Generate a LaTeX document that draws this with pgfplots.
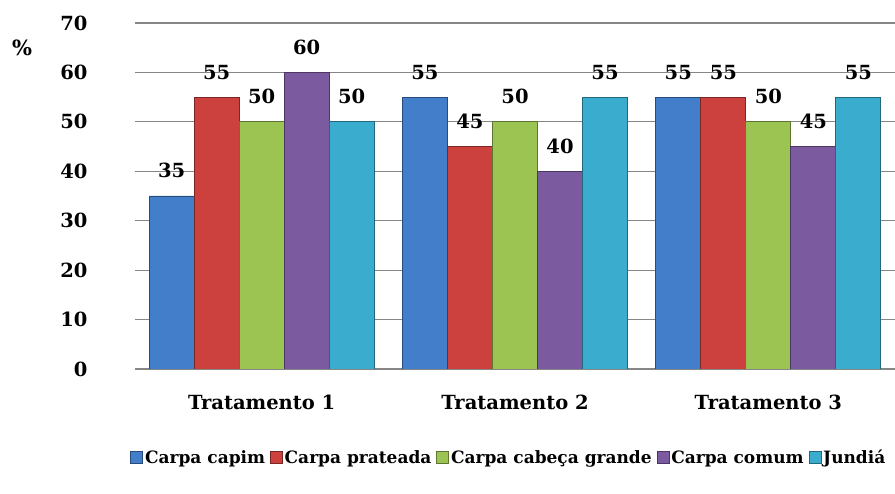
\documentclass[border=0pt]{standalone}
\usepackage{pgfplots}
\pgfplotsset{compat=1.18}
\usepackage{fontspec}
\setmainfont{DejaVu Serif}
\definecolor{cblue}{RGB}{66,126,202}
\definecolor{cred}{RGB}{204,64,62}
\definecolor{cgreen}{RGB}{156,196,82}
\definecolor{cpurple}{RGB}{124,90,160}
\definecolor{ccyan}{RGB}{58,172,206}
\definecolor{cgrid}{RGB}{134,134,134}
\begin{document}
\begin{tikzpicture}
\path[use as bounding box] (0,0) rectangle (895pt,494pt);
\begin{axis}[
  at={(135pt,125pt)}, anchor=south west,
  scale only axis, width=760pt, height=346pt,
  font=\fontsize{19.5}{23}\selectfont\bfseries,
  /pgf/number format/assume math mode=true,
  ybar=0pt, bar width=0.1777,
  xmin=0.5, xmax=3.5, ymin=0, ymax=70,
  xtick={1,2,3},
  xticklabels={Tratamento 1,Tratamento 2,Tratamento 3},
  ytick={0,10,...,70},
  major tick length=0pt,
  axis x line*=bottom, axis y line*=left,
  y axis line style={draw=none},
  x axis line style={cgrid, line width=1.4pt, -},
  ymajorgrids, grid style={cgrid, line width=1.2pt},
  yticklabel style={anchor=east, xshift=-44pt},
  xticklabel style={yshift=-22pt},
  nodes near coords,
  nodes near coords style={anchor=south, yshift=14pt, black},
  every axis plot post/.append style={
    legend image code/.code={\draw[#1,line width=0.6pt] (0pt,-3pt) rectangle (12pt,9pt);}},
  legend columns=-1,
  legend style={at={(0.492,-0.263)}, anchor=center, draw=none,
    font=\fontsize{17}{20}\selectfont\bfseries,
    nodes={text height=12pt, text depth=4pt},
    /tikz/every even column/.append style={column sep=3pt}},
]
\addplot[fill=cblue, draw=cblue!60!black, line width=0.8pt] coordinates {(1,35) (2,55) (3,55)};
\addlegendentry{Carpa capim}
\addplot[fill=cred, draw=cred!60!black, line width=0.8pt] coordinates {(1,55) (2,45) (3,55)};
\addlegendentry{Carpa prateada}
\addplot[fill=cgreen, draw=cgreen!60!black, line width=0.8pt] coordinates {(1,50) (2,50) (3,50)};
\addlegendentry{Carpa cabeça grande}
\addplot[fill=cpurple, draw=cpurple!60!black, line width=0.8pt] coordinates {(1,60) (2,40) (3,45)};
\addlegendentry{Carpa comum}
\addplot[fill=ccyan, draw=ccyan!60!black, line width=0.8pt] coordinates {(1,50) (2,55) (3,55)};
\addlegendentry{Jundiá}
\end{axis}
\node[font=\fontsize{21}{24}\selectfont\bfseries] at (22pt,446pt) {\%};
\end{tikzpicture}
\end{document}
